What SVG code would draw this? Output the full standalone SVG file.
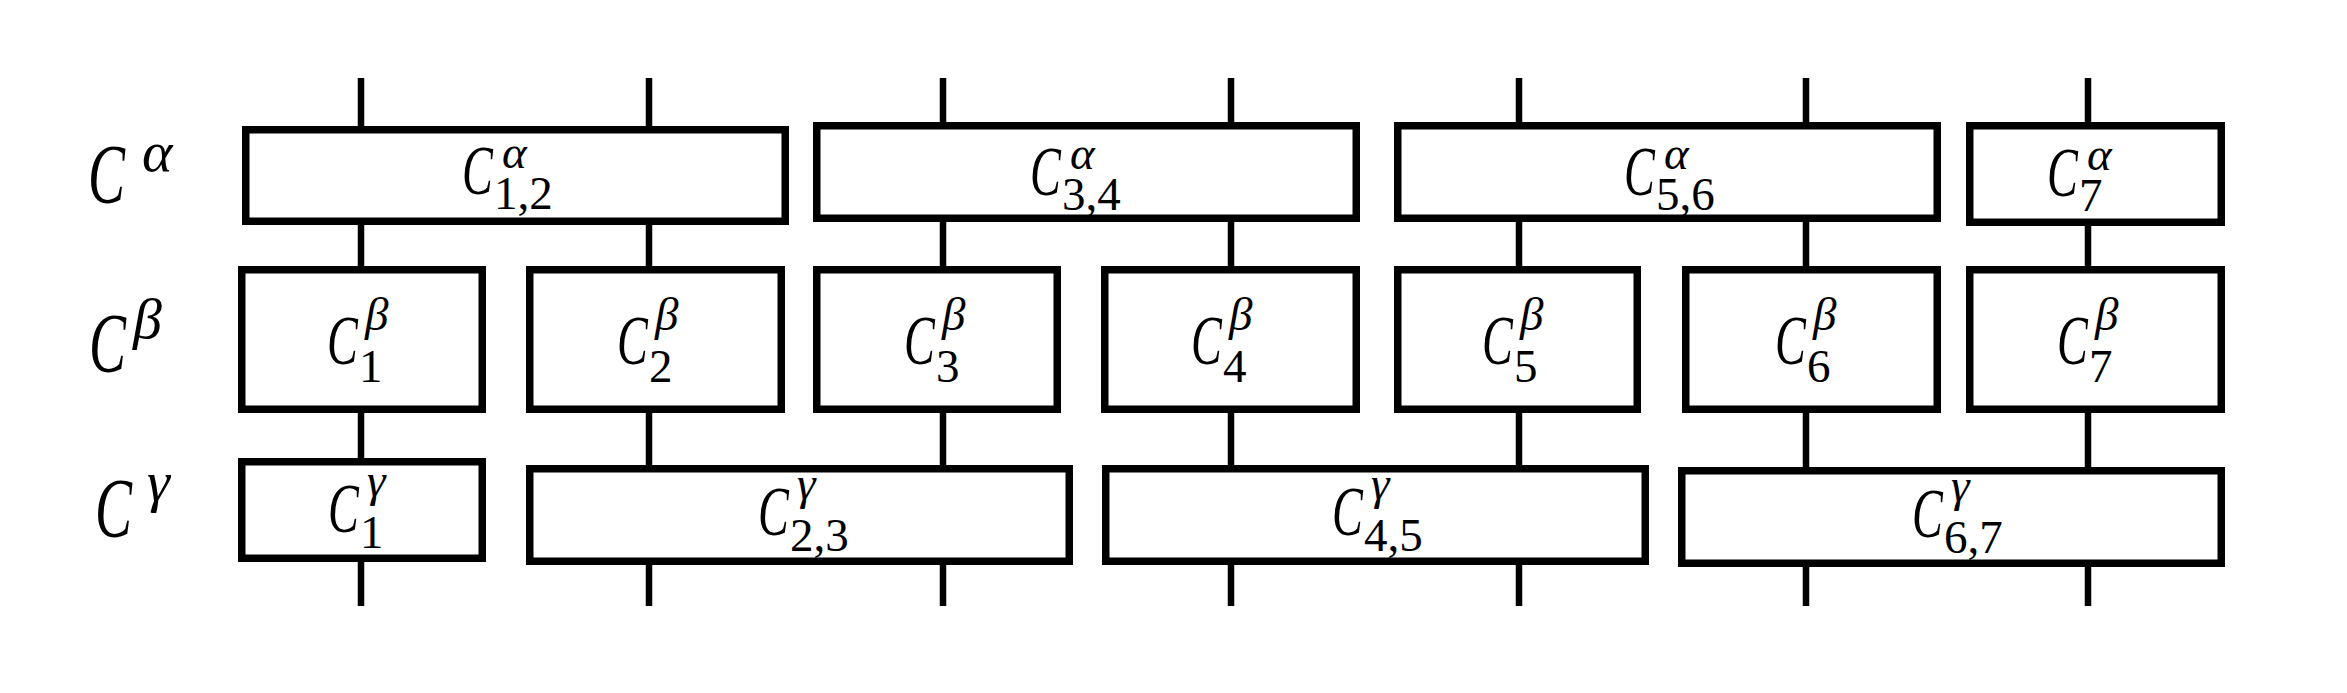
<svg xmlns="http://www.w3.org/2000/svg" width="2347" height="693" viewBox="0 0 2347 693">
<style>
.box{fill:#fff;stroke:#000;stroke-width:7.5}
.wire{stroke:#000;stroke-width:6.5;fill:none}
.cb{font-family:"Liberation Serif",serif;font-style:italic;font-size:70px;fill:#000}
.cr{font-family:"Liberation Serif",serif;font-style:italic;font-size:84px;fill:#000}
.sup{font-family:"Liberation Serif",serif;font-style:italic;font-size:47px;fill:#000}
.supr{font-family:"Liberation Serif",serif;font-style:italic;font-size:58px;fill:#000}
.sub{font-family:"Liberation Serif",serif;font-size:47px;fill:#000}
</style>
<rect width="2347" height="693" fill="#fff"/>
<g id="connectors">
<line class="wire" x1="361" y1="78" x2="361" y2="606"/>
<line class="wire" x1="649" y1="78" x2="649" y2="606"/>
<line class="wire" x1="943" y1="78" x2="943" y2="606"/>
<line class="wire" x1="1231" y1="78" x2="1231" y2="606"/>
<line class="wire" x1="1519" y1="78" x2="1519" y2="606"/>
<line class="wire" x1="1806" y1="78" x2="1806" y2="606"/>
<line class="wire" x1="2088" y1="78" x2="2088" y2="606"/>
</g>
<g id="row-labels">
<g id="label-alpha" transform="translate(88,203)"><text class="cr" transform="scale(0.66,1)">C</text><text class="supr" x="54" y="-32">α</text></g>
<g id="label-beta" transform="translate(89,372)"><text class="cr" transform="scale(0.66,1)">C</text><text class="supr" x="44" y="-34">β</text></g>
<g id="label-gamma" transform="translate(95,537)"><text class="cr" transform="scale(0.66,1)">C</text><text class="supr" x="52" y="-36">γ</text></g>
</g>
<g id="alpha-1-2"><rect class="box" x="245.75" y="129.75" width="539.5" height="91.5"/><g transform="translate(462,194)"><text class="cb" transform="scale(0.66,1)">C</text><text class="sup" x="40" y="-26">α</text><text class="sub" x="32" y="15">1,2</text></g></g>
<g id="alpha-3-4"><rect class="box" x="816.75" y="125.75" width="539.5" height="92.5"/><g transform="translate(1030,195)"><text class="cb" transform="scale(0.66,1)">C</text><text class="sup" x="40" y="-26">α</text><text class="sub" x="32" y="15">3,4</text></g></g>
<g id="alpha-5-6"><rect class="box" x="1397.75" y="125.75" width="539.5" height="92.5"/><g transform="translate(1624,195)"><text class="cb" transform="scale(0.66,1)">C</text><text class="sup" x="40" y="-26">α</text><text class="sub" x="32" y="15">5,6</text></g></g>
<g id="alpha-7"><rect class="box" x="1969.75" y="125.75" width="251.5" height="96.5"/><g transform="translate(2047,196)"><text class="cb" transform="scale(0.66,1)">C</text><text class="sup" x="40" y="-26">α</text><text class="sub" x="32" y="15">7</text></g></g>
<g id="beta-1"><rect class="box" x="241.75" y="269.75" width="240.5" height="139.5"/><g transform="translate(327,364)"><text class="cb" transform="scale(0.66,1)">C</text><text class="sup" x="38" y="-34">β</text><text class="sub" x="32" y="18">1</text></g></g>
<g id="beta-2"><rect class="box" x="529.75" y="269.75" width="251.5" height="139.5"/><g transform="translate(617,364)"><text class="cb" transform="scale(0.66,1)">C</text><text class="sup" x="38" y="-34">β</text><text class="sub" x="32" y="18">2</text></g></g>
<g id="beta-3"><rect class="box" x="816.75" y="269.75" width="240.5" height="139.5"/><g transform="translate(904,364)"><text class="cb" transform="scale(0.66,1)">C</text><text class="sup" x="38" y="-34">β</text><text class="sub" x="32" y="18">3</text></g></g>
<g id="beta-4"><rect class="box" x="1104.75" y="269.75" width="251.5" height="139.5"/><g transform="translate(1191,364)"><text class="cb" transform="scale(0.66,1)">C</text><text class="sup" x="38" y="-34">β</text><text class="sub" x="32" y="18">4</text></g></g>
<g id="beta-5"><rect class="box" x="1397.75" y="269.75" width="239.5" height="139.5"/><g transform="translate(1482,364)"><text class="cb" transform="scale(0.66,1)">C</text><text class="sup" x="38" y="-34">β</text><text class="sub" x="32" y="18">5</text></g></g>
<g id="beta-6"><rect class="box" x="1685.75" y="269.75" width="251.5" height="139.5"/><g transform="translate(1775,364)"><text class="cb" transform="scale(0.66,1)">C</text><text class="sup" x="38" y="-34">β</text><text class="sub" x="32" y="18">6</text></g></g>
<g id="beta-7"><rect class="box" x="1969.75" y="269.75" width="251.5" height="139.5"/><g transform="translate(2057,364)"><text class="cb" transform="scale(0.66,1)">C</text><text class="sup" x="38" y="-34">β</text><text class="sub" x="32" y="18">7</text></g></g>
<g id="gamma-1"><rect class="box" x="241.75" y="461.75" width="240.5" height="96.5"/><g transform="translate(328,532)"><text class="cb" transform="scale(0.66,1)">C</text><text class="sup" x="39" y="-36">γ</text><text class="sub" x="32" y="16">1</text></g></g>
<g id="gamma-2-3"><rect class="box" x="529.75" y="468.75" width="539.5" height="92.5"/><g transform="translate(758,535)"><text class="cb" transform="scale(0.66,1)">C</text><text class="sup" x="39" y="-36">γ</text><text class="sub" x="32" y="16">2,3</text></g></g>
<g id="gamma-4-5"><rect class="box" x="1105.75" y="468.75" width="539.5" height="92.5"/><g transform="translate(1332,535)"><text class="cb" transform="scale(0.66,1)">C</text><text class="sup" x="39" y="-36">γ</text><text class="sub" x="32" y="16">4,5</text></g></g>
<g id="gamma-6-7"><rect class="box" x="1681.75" y="470.75" width="539.5" height="92.5"/><g transform="translate(1912,537)"><text class="cb" transform="scale(0.66,1)">C</text><text class="sup" x="39" y="-36">γ</text><text class="sub" x="32" y="16">6,7</text></g></g>
</svg>
